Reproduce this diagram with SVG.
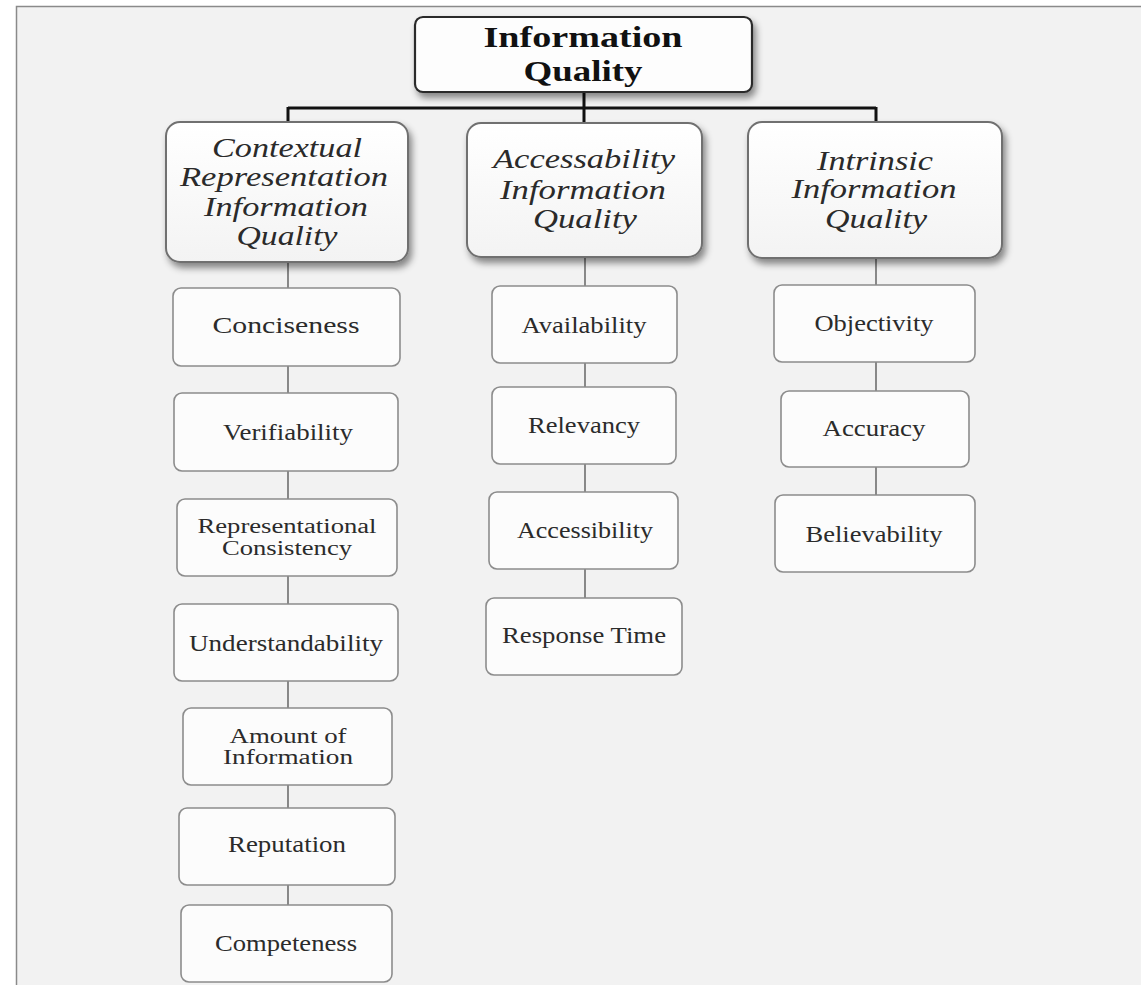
<svg xmlns="http://www.w3.org/2000/svg" width="1141" height="985" viewBox="0 0 1141 985">
<defs>
<filter id="sh" x="-20%" y="-20%" width="140%" height="150%">
<feDropShadow dx="3" dy="5" stdDeviation="3.5" flood-color="#000" flood-opacity="0.45"/>
</filter>
<linearGradient id="cg" x1="0" y1="0" x2="0" y2="1">
<stop offset="0" stop-color="#ffffff"/>
<stop offset="1" stop-color="#f3f3f3"/>
</linearGradient>
</defs>
<style>
.root{fill:#fdfdfd;stroke:#2a2a2a;stroke-width:2.2}
.cat{fill:url(#cg);stroke:#707070;stroke-width:2}
.leaf{fill:#fcfcfc;stroke:#8c8c8c;stroke-width:1.6}
.main{fill:none;stroke:#111;stroke-width:3}
.sub{fill:none;stroke:#6e6e6e;stroke-width:1.6}
text{font-family:"Liberation Serif","Times New Roman",serif;text-anchor:middle;fill:#2b2b2b}
.rt{font-size:30px;font-weight:bold;fill:#111}
.ct{font-size:27px;font-style:italic;fill:#2a2a2a}
.lt{font-size:23px}
.lt2{font-size:20px}
</style>
<rect x="0" y="0" width="1141" height="985" fill="#ffffff"/>
<rect x="16.5" y="6.5" width="1140" height="990" fill="#f2f2f2" stroke="#8a8a8a" stroke-width="1.5"/>

<g id="connectors">
<path class="main" d="M584 92 V122 M288 108 H876 M288 107 V122 M876 107 V122"/>
<path class="sub" d="M288 262 V288 M288 366 V393 M288 471 V499 M288 576 V604 M288 681 V708 M288 785 V808 M288 885 V905"/>
<path class="sub" d="M585 257 V286 M585 363 V387 M585 464 V492 M585 569 V598"/>
<path class="sub" d="M876 258 V285 M876 362 V391 M876 467 V495"/>
</g>

<g id="root">
<rect class="root" x="415" y="17" width="337" height="75" rx="8" filter="url(#sh)"/>
<text class="rt" x="583" y="47" textLength="199" lengthAdjust="spacingAndGlyphs">Information</text>
<text class="rt" x="583" y="81" textLength="119" lengthAdjust="spacingAndGlyphs">Quality</text>
</g>

<g id="cat-contextual">
<rect class="cat" x="166" y="122" width="242" height="140" rx="14" filter="url(#sh)"/>
<text class="ct" x="287" y="157" textLength="150" lengthAdjust="spacingAndGlyphs">Contextual</text>
<text class="ct" x="284" y="186" textLength="208" lengthAdjust="spacingAndGlyphs">Representation</text>
<text class="ct" x="286" y="216" textLength="164" lengthAdjust="spacingAndGlyphs">Information</text>
<text class="ct" x="287" y="245" textLength="101" lengthAdjust="spacingAndGlyphs">Quality</text>
</g>

<g id="cat-accessability">
<rect class="cat" x="467" y="123" width="235" height="134" rx="14" filter="url(#sh)"/>
<text class="ct" x="584" y="168" textLength="182" lengthAdjust="spacingAndGlyphs">Accessability</text>
<text class="ct" x="583" y="199" textLength="166" lengthAdjust="spacingAndGlyphs">Information</text>
<text class="ct" x="585" y="228" textLength="104" lengthAdjust="spacingAndGlyphs">Quality</text>
</g>

<g id="cat-intrinsic">
<rect class="cat" x="748" y="122" width="254" height="136" rx="14" filter="url(#sh)"/>
<text class="ct" x="875" y="170" textLength="116" lengthAdjust="spacingAndGlyphs">Intrinsic</text>
<text class="ct" x="874" y="198" textLength="165" lengthAdjust="spacingAndGlyphs">Information</text>
<text class="ct" x="876" y="228" textLength="102" lengthAdjust="spacingAndGlyphs">Quality</text>
</g>

<g id="conciseness">
<rect class="leaf" x="173" y="288" width="227" height="78" rx="8"/>
<text class="lt" x="286" y="333" textLength="147" lengthAdjust="spacingAndGlyphs">Conciseness</text>
</g>
<g id="verifiability">
<rect class="leaf" x="174" y="393" width="224" height="78" rx="8"/>
<text class="lt" x="288" y="440" textLength="130" lengthAdjust="spacingAndGlyphs">Verifiability</text>
</g>
<g id="representational-consistency">
<rect class="leaf" x="177" y="499" width="220" height="77" rx="8"/>
<text class="lt2" x="287" y="533" textLength="179" lengthAdjust="spacingAndGlyphs">Representational</text>
<text class="lt2" x="287" y="555" textLength="130" lengthAdjust="spacingAndGlyphs">Consistency</text>
</g>
<g id="understandability">
<rect class="leaf" x="174" y="604" width="224" height="77" rx="8"/>
<text class="lt" x="286" y="651" textLength="194" lengthAdjust="spacingAndGlyphs">Understandability</text>
</g>
<g id="amount-of-information">
<rect class="leaf" x="183" y="708" width="209" height="77" rx="8"/>
<text class="lt2" x="288" y="743" textLength="117" lengthAdjust="spacingAndGlyphs">Amount of</text>
<text class="lt2" x="288" y="764" textLength="130" lengthAdjust="spacingAndGlyphs">Information</text>
</g>
<g id="reputation">
<rect class="leaf" x="179" y="808" width="216" height="77" rx="8"/>
<text class="lt" x="287" y="852" textLength="118" lengthAdjust="spacingAndGlyphs">Reputation</text>
</g>
<g id="competeness">
<rect class="leaf" x="181" y="905" width="211" height="77" rx="8"/>
<text class="lt" x="286" y="951" textLength="142" lengthAdjust="spacingAndGlyphs">Competeness</text>
</g>

<g id="availability">
<rect class="leaf" x="492" y="286" width="185" height="77" rx="8"/>
<text class="lt" x="584" y="333" textLength="125" lengthAdjust="spacingAndGlyphs">Availability</text>
</g>
<g id="relevancy">
<rect class="leaf" x="492" y="387" width="184" height="77" rx="8"/>
<text class="lt" x="584" y="433" textLength="112" lengthAdjust="spacingAndGlyphs">Relevancy</text>
</g>
<g id="accessibility">
<rect class="leaf" x="489" y="492" width="189" height="77" rx="8"/>
<text class="lt" x="585" y="538" textLength="136" lengthAdjust="spacingAndGlyphs">Accessibility</text>
</g>
<g id="response-time">
<rect class="leaf" x="486" y="598" width="196" height="77" rx="8"/>
<text class="lt" x="584" y="643" textLength="164" lengthAdjust="spacingAndGlyphs">Response Time</text>
</g>

<g id="objectivity">
<rect class="leaf" x="774" y="285" width="201" height="77" rx="8"/>
<text class="lt" x="874" y="331" textLength="119" lengthAdjust="spacingAndGlyphs">Objectivity</text>
</g>
<g id="accuracy">
<rect class="leaf" x="781" y="391" width="188" height="76" rx="8"/>
<text class="lt" x="874" y="436" textLength="103" lengthAdjust="spacingAndGlyphs">Accuracy</text>
</g>
<g id="believability">
<rect class="leaf" x="775" y="495" width="200" height="77" rx="8"/>
<text class="lt" x="874" y="542" textLength="137" lengthAdjust="spacingAndGlyphs">Believability</text>
</g>
</svg>
